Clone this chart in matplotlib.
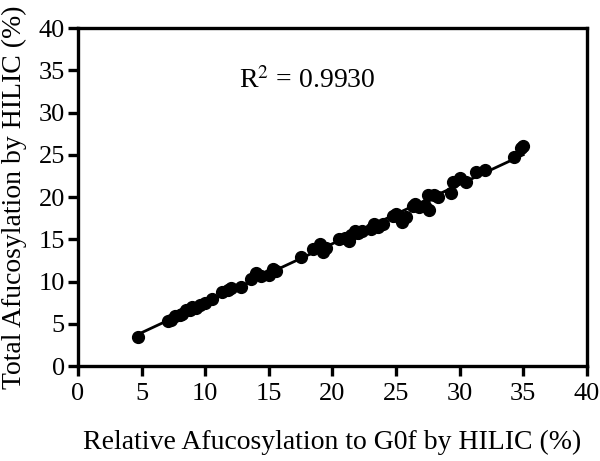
import matplotlib
matplotlib.use("Agg")
import matplotlib.pyplot as plt
import numpy as np

# Relative afucosylation to G0f (x) vs total afucosylation (y), both by HILIC (%)
rel_afuc = [4.7, 7.1, 7.3, 7.6, 8.0, 8.2, 8.5, 8.8, 9.0, 9.3, 9.6, 10.0, 10.5,
            11.3, 11.8, 12.0, 12.8, 13.6, 14.0, 14.4, 15.0, 15.3, 15.6, 17.5,
            18.5, 19.0, 19.3, 19.5, 20.5, 21.0, 21.3, 21.5, 21.8, 22.0, 22.3,
            23.0, 23.3, 23.6, 24.0, 24.8, 25.0, 25.3, 25.5, 25.8, 26.3, 26.5,
            26.8, 27.3, 27.5, 27.6, 28.0, 28.3, 29.3, 29.5, 30.0, 30.5, 31.3,
            32.0, 34.3, 34.8, 35.0]
total_afuc = [3.4, 5.3, 5.5, 5.9, 6.0, 6.2, 6.6, 6.6, 7.0, 6.9, 7.2, 7.5, 7.9,
              8.8, 9.0, 9.2, 9.3, 10.3, 11.0, 10.6, 10.8, 11.5, 11.2, 12.9,
              13.8, 14.5, 13.5, 14.0, 15.0, 15.2, 14.8, 15.5, 16.0, 15.7, 16.0,
              16.2, 16.8, 16.5, 16.8, 17.8, 18.0, 17.5, 17.0, 17.7, 18.9, 19.2,
              18.8, 19.0, 20.3, 18.5, 20.3, 20.0, 20.5, 21.8, 22.2, 21.8, 23.0,
              23.2, 24.7, 25.8, 26.0]
r2_label = "R$^2$ = 0.9930"

plt.rcParams["font.family"] = ["Liberation Serif", "DejaVu Serif"]
plt.rcParams["mathtext.fontset"] = "stix"

x = np.array(rel_afuc)
y = np.array(total_afuc)
slope, intercept = np.polyfit(x, y, 1)
xfit = np.array([x.min(), x.max()])

fig = plt.figure(figsize=(6, 4.61), dpi=100)
ax = fig.add_axes([0.13, 0.206, 0.848, 0.733])

ax.plot(xfit, slope * xfit + intercept, color="black", linewidth=2, zorder=2)
ax.plot(x, y, "o", color="black", markersize=8.5, zorder=3)

ax.set_xlim(0, 40)
ax.set_ylim(0, 40)
ax.set_xticks(np.arange(0, 41, 5))
ax.set_yticks(np.arange(0, 41, 5))
for s in ax.spines.values():
    s.set_linewidth(2.4)
ax.tick_params(direction="out", length=7.5, width=2.4, labelsize=19,
               top=False, right=False)
ax.tick_params(axis="x", pad=5)
ax.tick_params(axis="y", pad=2)

ax.set_xlabel("Relative Afucosylation to G0f by HILIC (%)", fontsize=20)
ax.set_ylabel("Total Afucosylation by HILIC (%)", fontsize=20)
ax.xaxis.set_label_coords(0.5, -0.19)
ax.yaxis.set_label_coords(-0.10, 0.5)
ax.text(18.0, 32.9, r2_label, fontsize=20, ha="center", va="baseline")

fig.savefig("out.png", dpi=100)
